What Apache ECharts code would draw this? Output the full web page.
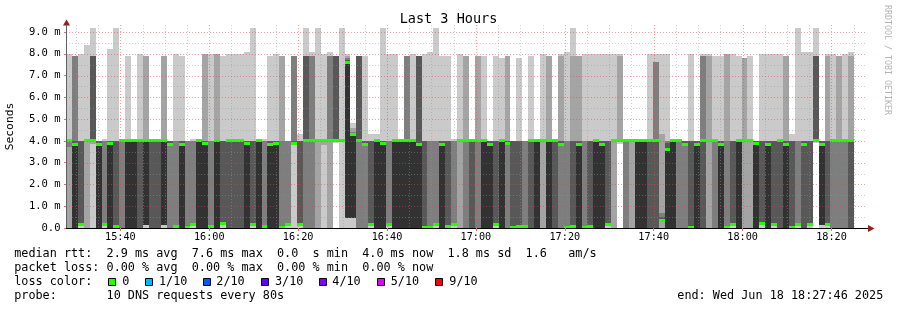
<!DOCTYPE html>
<html><head><meta charset="utf-8">
<script src="https://cdn.jsdelivr.net/npm/echarts@6/dist/echarts.min.js"></script>
<style>html,body{margin:0;padding:0;background:#fff}#c{width:897px;height:310px}</style>
</head><body><div id="c"></div>
<script>
// ---- time axis (minutes after 15:00) ----
const axisStartMin = 27.767;   // 15:27:46
const axisEndMin = 207.767;    // 18:27:46
const slotStartMin = 27.767;
const slotMinutes = 80 / 60;   // 80 s RRD step
const yMax = 9.32;

const majorTimes = [40, 60, 80, 100, 120, 140, 160, 180, 200];
const majorLabels = ['15:40','16:00','16:20','16:40','17:00','17:20','17:40','18:00','18:20'];
const minorTimes = [30,35,45,50,55,65,70,75,85,90,95,105,110,115,125,130,135,145,150,155,165,170,175,185,190,195,205];
const yLabelValues = [0,1,2,3,4,5,6,7,8,9];
const yMinorValues = [0.5,1.5,2.5,3.5,4.5,5.5,6.5,7.5,8.5];

// ---- sorted ping rtt per 80 s slot (ms), rank 1 (lowest) .. rank 10 (highest) ----
const ping1 = [
0,0,0,0,0,0,0,0,0,0, 0,0,0,0,0,0,0,0,0,0, 0,0,0,0,0,0,0,0,0,0, 0,0,0,0,0,0,0,0,0,0,
0,0,0,0,0,3.9,0,0,0,0, 0,0,0,0,0,0,0,0,0,0, 0,0,0,0,0,0,0,0,0,0, 0,0,0,0,0,0,0,0,0,0,
0,0,0,0,0,0,0,0,0,0, 0,0,0,3.85,0,0,0,0,0,0, 0,0,0,0,0,0,0,0,0,0, 0,0,0,0,0,0,0,0,0,0,
0,0,0,0,0,0,3.9,0,0,0, 0,0,0];
const ping2 = [
0,0,.15,0,3.85,0,.15,0,.07,0, 0,0,0,.15,0,0,.15,0,.07,0, 0,.15,0,0,.07,0,.2,0,0,0, 0,.15,0,.07,0,0,0,.15,3.9,.15,
0,0,0,3.8,0,4,4,.45,.45,0, 0,.15,0,0,.15,0,0,0,0,0, .03,.03,.15,0,.07,.15,0,0,0,0, 0,0,.15,0,0,.03,.05,.07,0,0,
0,0,0,0,.02,.07,0,.02,.07,0, 0,.15,0,4,0,0,0,0,0,0, 0,0,0,0,0,.02,0,0,0,0, 0,.02,.15,0,0,0,0,.2,0,.15,
0,0,.02,.15,0,.15,4,.15,.15,0, 0,0,0];
const ping3 = [
3.72,0,.15,4,4,0,.15,0,.07,0, 0,0,0,.15,0,0,.15,0,.07,0, 0,.15,0,0,.07,0,.2,0,0,0, 0,.15,0,.07,0,0,0,.15,3.9,.15,
0,0,4,4,4,4,4,.45,.45,0, 0,.15,0,0,.15,0,0,0,0,0, .03,.03,.15,0,.07,.15,4,0,0,0, 0,0,.15,0,0,.03,.05,.07,0,0,
4,0,0,0,.02,.07,0,.02,.07,0, 0,.15,4,4,0,4,0,0,0,0, .3,0,0,0,0,.02,0,0,4,0, 0,.02,.15,0,4,4,0,.2,0,.15,
0,0,.02,.15,0,.15,4,.15,.15,0, 0,0,0];
const ping4 = [
4,0,.15,4,4,0,.15,0,.07,4, 0,0,0,.15,0,0,.15,3.85,.07,0, .02,.15,0,0,.07,0,.2,0,0,0, 0,.15,0,.07,0,0,.02,.15,3.9,.15,
4,4,4,4,4,4,4,.45,.45,4, 3.85,.15,0,0,.15,0,0,0,0,0, .03,.03,.15,0,.07,.15,4,4,0,4, 0,0,.15,0,3.9,.03,.05,.07,0,0,
4,0,0,3.85,.02,.07,0,.02,.07,0, 0,.15,4,4,4,4,0,0,0,0, .3,0,0,4,3.85,.02,0,0,4,4, 0,.02,.15,0,4,4,0,.2,0,.15,
0,0,.02,.15,0,.15,4,.15,.15,4, 4,4,0];
const ping5 = [
4,0,.15,4,4,0,.15,0,.07,4, 0,0,4,.15,4,4,.15,3.85,.07,0, .02,.15,0,0,.07,0,.2,4,4,4, 0,.15,0,.07,0,0,.02,.15,3.9,.15,
4,4,4,4,4,4,4,.45,.45,4, 3.85,.15,0,0,.15,0,0,0,0,0, .03,.03,.15,0,.07,.15,4,4,4,4, 0,0,.15,0,3.9,.03,.05,.07,4,0,
4,0,4,3.85,.02,.07,0,.02,.07,0, 0,.15,4,4,4,4,0,0,4,4, .34,0,0,4,3.85,.02,0,4,4,4, 0,.02,.15,0,4,4,0,.2,0,.15,
4,0,.02,.15,3.85,.15,4,.15,.15,4, 4,4,4];
const ping6 = [
4,3.85,.15,4,4,3.85,.15,3.9,.07,4, 4,4,4,4,4,4,4,3.85,.07,3.85, .02,.15,4,3.9,.07,4,.2,4,4,4, 3.9,.15,4,.07,3.85,3.9,.02,.15,3.9,.15,
4,4,4,4,4,4,4,7.6,4.3,4, 3.85,.15,4,3.9,.15,4,4,4,4,3.85, .03,.03,.15,3.85,.07,.15,4,4,4,4, 4,3.85,.15,4,3.9,.03,.05,.07,4,4,
4,4,4,3.85,.02,.07,3.85,.02,.07,4, 3.85,.15,4,4,4,4,4,4,4,4, .34,3.6,4,4,3.85,.02,3.85,4,4,4, 3.85,.02,.15,4,4,4,3.9,.2,3.85,.15,
4,3.85,.02,.15,3.85,.15,4,3.85,.15,4, 4,4,4];
const ping7 = [
4,4,4,4,7.9,4,.15,4,4,4, 4,4,4,4,4,4,4,4,.07,4, .02,.15,4,4,.07,4,4,4,4,4, 4,4,4,.07,4,4,.02,.15,4,4,
7.9,4,4,4,4,7.9,4,7.7,4.3,7.9, 4,4,4,4,.15,4,4,4,4,7.9, 4,.03,.15,4,4,.15,4,4,4,4, 4,4,4,4,4,4,4,.07,4,4,
4,4,4,4,.02,4,4,.02,4,4, 4,4,4,4,4,4,4,4,4,4, .5,3.9,4,4,4,4,4,4,4,4, 4,.02,4,4,4,4,4,4,4,4,
4,4,4,.15,4,4,7.9,4,4,4, 4,4,4];
const ping8 = [
4,7.9,4,4,7.9,4,4,4,4,4, 4,4,4,4,4,4,4,4,4,4, 4,4,4,4,4,4,4,4,4,4, 4,4,4,4,4,4,4,4,7.9,4,
7.9,7.9,4,4,7.9,7.9,4,7.8,4.4,7.9, 4,4,4,4,4,4,4,7.9,4,7.9, 4,4,4,4,4,4,4,4,4,4, 4,4,4,4,4,4,4,4,4,4,
4,4,4,4,4,4,4,4,4,4, 4,4,4,4,4,4,4,4,4,7.6, .68,4,4,4,4,4,4,7.9,4,4, 4,4,4,4,4,4,4,4,4,4,
4,4,4,4,4,4,7.9,4,4,4, 4,4,4];
const ping9 = [
4,7.9,4,4,7.9,4,4,4,4,4, 4,4,4,7.9,4,4,7.9,4,4,4, 4,4,4,8,4,8,4,4,4,4, 4,4,4,4,4,4,7.9,4,7.9,4,
7.9,7.9,4,4,7.9,7.9,4,7.9,4.6,7.9, 4,4,4,4,4,4,4,7.9,4,7.9, 4,4,4,4,4,4,4,7.9,4,7.9, 4,4,4,4,7.9,4,4,4,4,4,
4,7.9,4,7.9,4,7.9,7.9,4,4,4, 4,4,4,7.9,4,4,4,4,4,7.6, 4.3,4,4,4,4,4,4,7.9,7.9,4, 4,8,4,4,7.8,4,4,4,4,4,
4,7.9,4,4,4,4,7.9,4,7.9,4, 7.9,4,7.9];
const ping10 = [
8,7.9,8,8.4,9.2,4,4.1,8.2,9.2,4, 7.9,4.1,8,7.9,4.1,4.1,7.9,4,8,7.9, 4,4.1,4,8,8,8,7.9,8,8,8, 8.1,9.2,4,4.1,7.9,8,7.9,4,7.9,4.3,
9.2,8.1,9.2,8,8.1,7.9,9.2,8,4.8,7.9, 7.9,4.3,4.3,9.2,8,8,4,7.9,8,7.9, 8,8.1,9.2,7.9,7.9,4.1,8,7.9,4.1,7.9, 7.9,4,7.9,7.8,7.9,4,7.8,4,7.9,4,
8,7.9,4.1,8,8.1,9.2,7.9,8,8,8, 8,8,8,8,4.1,4.1,4.1,4,8,8, 8,8,4,4,4,8,4,8,8,7.9, 7.9,8,8,7.9,7.8,7.9,4,8,8,8,
8,7.9,4.3,9.2,8.1,8.1,9.2,4,8,8, 7.9,8,8.1];
// median rtt per slot (ms), drawn with the loss colour (0 loss everywhere)
const median = [
4,3.85,.15,4,4,3.85,.15,3.9,.07,4, 4,4,4,4,4,4,4,3.85,.07,3.85, .02,.15,4,3.9,.07,4,.2,4,4,4, 3.9,.15,4,.07,3.85,3.9,.02,.15,3.9,.15,
4,4,4,4,4,4,4,7.6,4.3,4, 3.85,.15,4,3.9,.15,4,4,4,4,3.85, .03,.03,.15,3.85,.07,.15,4,4,4,4, 4,3.85,.15,4,3.9,.03,.05,.07,4,4,
4,4,4,3.85,.02,.07,3.85,.02,.07,4, 3.85,.15,4,4,4,4,4,4,4,4, .34,3.6,4,4,3.85,.02,3.85,4,4,4, 3.85,.02,.15,4,4,4,3.9,.2,3.85,.15,
4,3.85,.02,.15,3.85,.15,4,3.85,.15,4, 4,4,4];
const lossIndex = median.map(() => 0);

const smokeColors = ['#cacaca', '#a4a4a4', '#7e7e7e', '#585858', '#323232'];
const lossColors = ['#26ff00', '#00b8ff', '#0059ff', '#5e00ff', '#7e00ff', '#dd00ff', '#ff0000'];
const lossLabels = ['0', '1/10', '2/10', '3/10', '4/10', '5/10', '9/10'];

const legendLines = [
  'median rtt:  2.9 ms avg  7.6 ms max  0.0  s min  4.0 ms now  1.8 ms sd  1.6   am/s',
  'packet loss: 0.00 % avg  0.00 % max  0.00 % min  0.00 % now',
  'loss color:',
  'probe:       10 DNS requests every 80s'
];
const endText = 'end: Wed Jun 18 18:27:46 2025';

// ---- build series data ----
const pings = [ping1, ping2, ping3, ping4, ping5, ping6, ping7, ping8, ping9, ping10];
const slotData = median.map((m, k) => {
  const row = [slotStartMin + k * slotMinutes];
  for (let r = 0; r < 10; r++) row.push(pings[r][k]);
  row.push(m, lossIndex[k]);
  return row;
});

const MONO = "'DejaVu Sans Mono', monospace";

function renderSlot(params, api) {
  const x0 = api.value(0);
  const px0 = Math.round(api.coord([x0, 0])[0]);
  const px1 = Math.round(api.coord([x0 + slotMinutes, 0])[0]);
  const w = px1 - px0;
  const p = [];
  for (let i = 1; i <= 10; i++) p.push(api.value(i));
  const children = [];
  for (let b = 0; b < 5; b++) {
    const lo = p[b], hi = p[9 - b];
    if (!(hi > lo)) continue;
    const yTop = Math.round(api.coord([x0, hi])[1]);
    const yBot = Math.round(api.coord([x0, lo])[1]);
    if (yBot - yTop < 1) continue;
    children.push({ type: 'rect', shape: { x: px0, y: yTop, width: w, height: yBot - yTop },
      style: { fill: smokeColors[b] } });
  }
  const ym = api.coord([x0, api.value(11)])[1];
  children.push({ type: 'rect', shape: { x: px0, y: Math.round(ym - 1.5), width: w, height: 3 },
    style: { fill: lossColors[api.value(12)] } });
  return { type: 'group', children };
}

const gridMajor = 'rgba(225,70,70,0.5)';
const gridMinor = 'rgba(150,150,150,0.45)';

function renderVLine(params, api) {
  const cs = params.coordSys;
  const x = Math.round(api.coord([api.value(0), 0])[0]) + 0.5;
  return { type: 'line', shape: { x1: x, y1: cs.y, x2: x, y2: cs.y + cs.height },
    style: { stroke: api.value(1) ? gridMajor : gridMinor, lineWidth: 1, lineDash: [1, 2] } };
}
function renderHLine(params, api) {
  const cs = params.coordSys;
  const y = Math.round(api.coord([axisStartMin, api.value(1)])[1]) + 0.5;
  return { type: 'line', shape: { x1: cs.x, y1: y, x2: cs.x + cs.width, y2: y },
    style: { stroke: api.value(2) ? gridMajor : gridMinor, lineWidth: 1, lineDash: [1, 2] } };
}

const vLines = minorTimes.map(t => [t, 0]).concat(majorTimes.map(t => [t, 1]));
const hLines = yMinorValues.map(v => [axisStartMin, v, 0]).concat(yLabelValues.filter(v => v > 0).map(v => [axisStartMin, v, 1]));

const texts = [];
texts.push({ type: 'text', x: 448.5, y: 19.8, style: { text: 'Last 3 Hours', font: '13.5px ' + MONO, fill: '#000', align: 'center', verticalAlign: 'middle' } });
texts.push({ type: 'text', x: 10.3, y: 126.5, rotation: Math.PI / 2, style: { text: 'Seconds', font: '11.3px ' + MONO, fill: '#000', align: 'center', verticalAlign: 'middle' } });
texts.push({ type: 'text', x: 887.5, y: 60, rotation: -Math.PI / 2, style: { text: 'RRDTOOL / TOBI OETIKER', font: '8.3px ' + MONO, fill: '#b4b4b4', align: 'center', verticalAlign: 'middle' } });
const lineY = [254.2, 268.0, 281.8, 295.6];
legendLines.forEach((t, i) => {
  texts.push({ type: 'text', x: 14.2, y: lineY[i], style: { text: t, font: '11.8px ' + MONO, fill: '#000', verticalAlign: 'middle' } });
});
const boxX = [108, 145, 203, 261, 319, 377, 435];
const labX = [122.3, 159, 216.3, 275, 332.3, 390.7, 449.3];
lossLabels.forEach((l, i) => {
  texts.push({ type: 'rect', shape: { x: boxX[i] + 0.5, y: 278.5, width: 7, height: 7 }, style: { fill: lossColors[i], stroke: '#000', lineWidth: 1 } });
  texts.push({ type: 'text', x: labX[i], y: lineY[2], style: { text: l, font: '11.8px ' + MONO, fill: '#000', verticalAlign: 'middle' } });
});
texts.push({ type: 'text', x: 677.3, y: lineY[3], style: { text: endText, font: '11.8px ' + MONO, fill: '#000', verticalAlign: 'middle' } });

const chart = echarts.init(document.getElementById('c'), null, { renderer: 'canvas', width: 897, height: 310 });
const option = {
  animation: false,
  backgroundColor: '#ffffff',
  grid: { left: 66, right: 31, top: 25, bottom: 82, containLabel: false },
  xAxis: {
    type: 'value', min: axisStartMin, max: axisEndMin, z: 6,
    axisLine: { show: true, lineStyle: { color: '#000', width: 1 } },
    axisTick: { show: true, customValues: majorTimes, length: 3, lineStyle: { color: '#e07070' } },
    axisLabel: { show: true, customValues: majorTimes, margin: 4, fontFamily: MONO, fontSize: 10.2, color: '#000',
      formatter: v => { const i = majorTimes.findIndex(t => Math.abs(t - v) < 1e-6); return i >= 0 ? majorLabels[i] : ''; } },
    splitLine: { show: false }
  },
  yAxis: {
    type: 'value', min: 0, max: yMax, z: 6,
    axisLine: { show: true, lineStyle: { color: '#606060', width: 1 } },
    axisTick: { show: true, customValues: yLabelValues, length: 2, lineStyle: { color: '#e07070' } },
    axisLabel: { show: true, customValues: yLabelValues, margin: 5.5, fontFamily: MONO, fontSize: 10.5, color: '#000',
      formatter: v => (Math.abs(v) < 1e-9 ? '0.0' : v.toFixed(1) + ' m') },
    splitLine: { show: false }
  },
  series: [
    { type: 'custom', name: 'smoke', renderItem: renderSlot, data: slotData, z: 2, silent: true,
      encode: { x: 0, y: 6 } },
    { type: 'custom', name: 'vgrid', renderItem: renderVLine, data: vLines, z: 4, silent: true, encode: { x: 0 } },
    { type: 'custom', name: 'hgrid', renderItem: renderHLine, data: hLines, z: 4, silent: true, encode: { x: 0, y: 1 } }
  ],
  graphic: texts
};
chart.setOption(option);

// axis arrows placed from the axes' own pixel mapping
const pBR = chart.convertToPixel({ xAxisIndex: 0, yAxisIndex: 0 }, [axisEndMin, 0]);
const pTL = chart.convertToPixel({ xAxisIndex: 0, yAxisIndex: 0 }, [axisStartMin, yMax]);
const arrowColor = '#9a1c1c';
const bx = Math.round(pBR[0]), by = Math.round(pBR[1]) + 0.5;
const tx = Math.round(pTL[0]) + 0.5, ty = Math.round(pTL[1]);
const arrows = [
  { type: 'line', shape: { x1: bx, y1: by, x2: bx + 3, y2: by }, style: { stroke: '#000', lineWidth: 1 } },
  { type: 'polygon', shape: { points: [[bx + 2, by - 3.5], [bx + 8.5, by], [bx + 2, by + 3.5]] }, style: { fill: arrowColor } },
  { type: 'polygon', shape: { points: [[tx - 3.5, ty + 0.5], [tx, ty - 5.5], [tx + 3.5, ty + 0.5]] }, style: { fill: arrowColor } }
];
chart.setOption({ graphic: texts.concat(arrows) });
</script>
</body></html>
